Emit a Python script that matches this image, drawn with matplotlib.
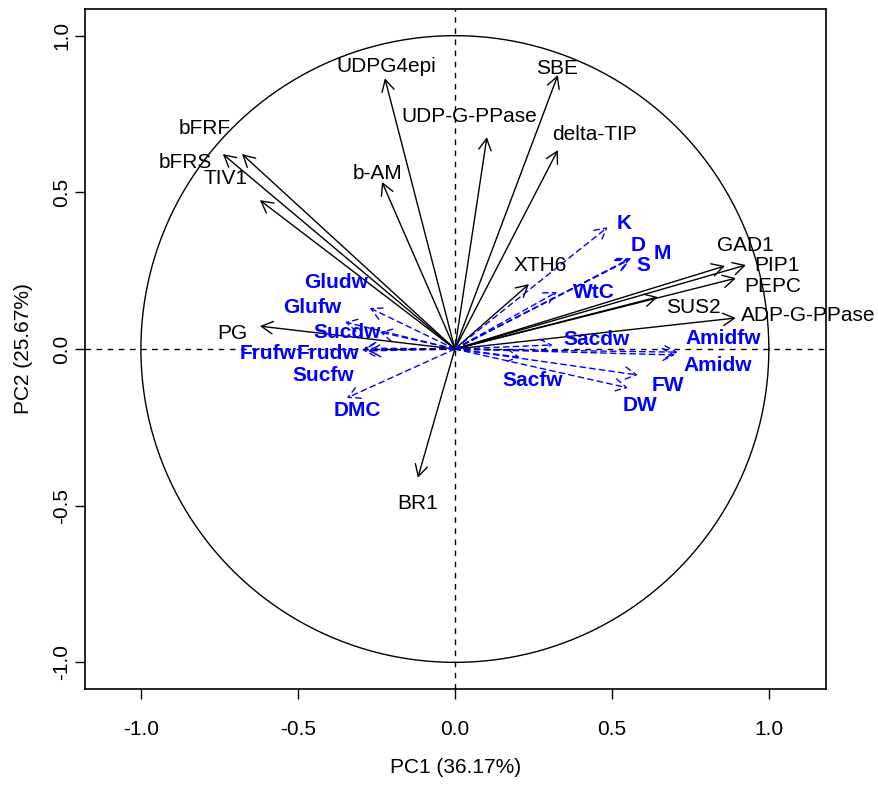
import numpy as np
import matplotlib
matplotlib.use("Agg")
import matplotlib.pyplot as plt
from matplotlib.patches import FancyArrowPatch

plt.rcParams['font.family'] = ['Liberation Sans', 'DejaVu Sans']

# Black loadings (genes / enzymes)
gene_names = ["UDPG4epi", "SBE", "UDP-G-PPase", "delta-TIP", "b-AM", "bFRF", "bFRS", "TIV1",
              "PG", "BR1", "XTH6", "GAD1", "PIP1", "PEPC", "SUS2", "ADP-G-PPase"]
gene_pc1 = [-0.223, 0.328, 0.102, 0.328, -0.232, -0.678, -0.739, -0.621,
            -0.621, -0.118, 0.236, 0.860, 0.927, 0.895, 0.646, 0.895]
gene_pc2 = [0.864, 0.874, 0.676, 0.635, 0.533, 0.622, 0.622, 0.475,
            0.073, -0.411, 0.207, 0.265, 0.268, 0.226, 0.166, 0.099]
gene_lab_x = [-0.220, 0.325, 0.045, 0.446, -0.245, -0.796, -0.857, -0.732,
              -0.710, -0.118, 0.271, 0.924, 1.025, 1.013, 0.758, 1.124]
gene_lab_y = [0.900, 0.896, 0.743, 0.683, 0.561, 0.705, 0.596, 0.545,
              0.051, -0.494, 0.268, 0.329, 0.265, 0.198, 0.134, 0.108]

# Blue loadings (traits)
trait_names = ["K", "D", "M", "S", "WtC", "Sacdw", "Amidfw", "Amidw", "FW", "DW", "Sacfw",
               "Gludw", "Glufw", "Sucdw", "Frufw", "Frudw", "Sucfw", "DMC"]
trait_pc1 = [0.487, 0.557, 0.561, 0.554, 0.325, 0.312, 0.710, 0.701, 0.583, 0.551, 0.207,
             -0.271, -0.350, -0.239, -0.296, -0.290, -0.277, -0.344]
trait_pc2 = [0.389, 0.287, 0.290, 0.284, 0.182, 0.013, -0.010, -0.019, -0.083, -0.124, -0.026,
             0.131, 0.086, 0.054, -0.003, 0.003, -0.006, -0.156]
trait_lab_x = [0.538, 0.583, 0.662, 0.599, 0.443, 0.452, 0.854, 0.838, 0.678, 0.589, 0.248,
               -0.379, -0.455, -0.344, -0.596, -0.404, -0.420, -0.312]
trait_lab_y = [0.402, 0.329, 0.306, 0.268, 0.179, 0.029, 0.032, -0.054, -0.118, -0.179, -0.102,
               0.211, 0.131, 0.054, -0.013, -0.013, -0.083, -0.195]

fig = plt.figure(figsize=(8.79, 7.85), dpi=100)
ax = fig.add_axes([0.0967, 0.1223, 0.843, 0.8662])

# unit circle
t = np.linspace(0, 2 * np.pi, 400)
ax.plot(np.cos(t), np.sin(t), color='black', lw=1.0)

ax.axhline(0, color='black', lw=1.0, ls=(0, (4, 4)))
ax.axvline(0, color='black', lw=1.0, ls=(0, (4, 4)))

def draw_arrow(x, y, color, ls):
    arr = FancyArrowPatch((0, 0), (x, y), arrowstyle='->,head_length=0.55,head_width=0.3',
                          mutation_scale=15, color=color, lw=1.0, linestyle=ls,
                          shrinkA=0, shrinkB=0)
    ax.add_patch(arr)

for i in range(len(gene_names)):
    draw_arrow(gene_pc1[i], gene_pc2[i], 'black', '-')
    ax.text(gene_lab_x[i], gene_lab_y[i], gene_names[i], ha='center', va='center',
            fontsize=15, color='black')

for i in range(len(trait_names)):
    draw_arrow(trait_pc1[i], trait_pc2[i], 'blue', (0, (4, 3)))
    ax.text(trait_lab_x[i], trait_lab_y[i], trait_names[i], ha='center', va='center',
            fontsize=15, color='blue', fontweight='bold')

ax.set_xlim(-1.178, 1.182)
ax.set_ylim(-1.085, 1.085)
ax.set_xticks([-1.0, -0.5, 0.0, 0.5, 1.0])
ax.set_yticks([-1.0, -0.5, 0.0, 0.5, 1.0])
ax.set_xticklabels(['-1.0', '-0.5', '0.0', '0.5', '1.0'])
ax.set_yticklabels(['-1.0', '-0.5', '0.0', '0.5', '1.0'], rotation=90, va='center')
ax.tick_params(direction='out', length=7, width=1, labelsize=15)
ax.tick_params(axis='x', pad=15)
ax.tick_params(axis='y', pad=3)
for s in ax.spines.values():
    s.set_linewidth(1.2)

ax.set_xlabel('PC1 (36.17%)', fontsize=15, labelpad=14)
ax.set_ylabel('PC2 (25.67%)', fontsize=15, labelpad=14)

fig.savefig('out.png', dpi=100)
